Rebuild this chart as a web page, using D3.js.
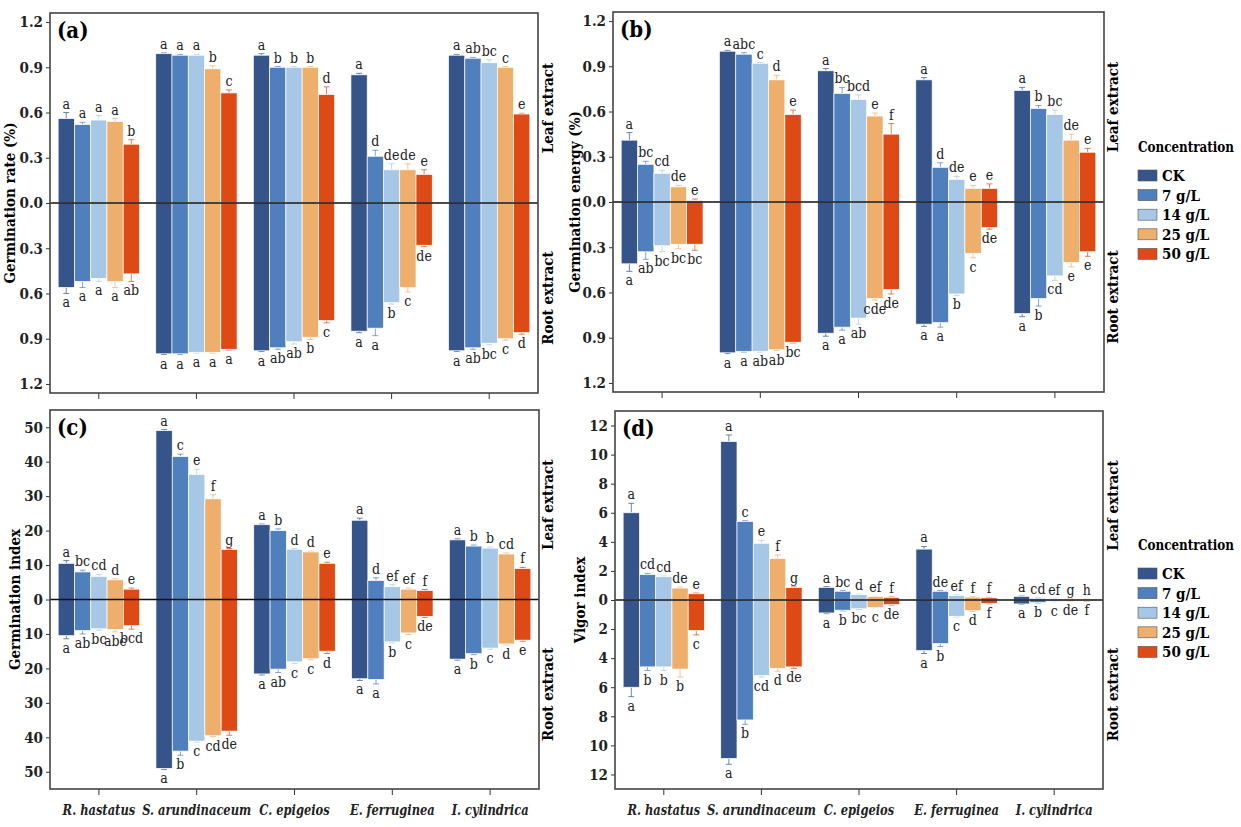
<!DOCTYPE html>
<html>
<head>
<meta charset="utf-8">
<script src="https://cdn.jsdelivr.net/npm/d3@7.9.0/dist/d3.min.js"></script>
<style>
  body { margin: 0; background: #fff; }
</style>
</head>
<body>
<svg id="chart" width="1241" height="827"></svg>
<script>
// species + concentrations
const species = ['R. hastatus', 'S. arundinaceum', 'C. epigeios', 'E. ferruginea', 'I. cylindrica'];
const concs = ['CK', '7 g/L', '14 g/L', '25 g/L', '50 g/L'];
const colors = ['#34548a', '#4f7fbd', '#a6c8e6', '#eeae6c', '#dd4a16'];

// (a) germination rate -- one row per species, CK..50 g/L
const rateLeaf = [[0.56, 0.52, 0.55, 0.54, 0.39], [0.99, 0.98, 0.98, 0.89, 0.73], [0.98, 0.90, 0.90, 0.90, 0.72], [0.85, 0.31, 0.22, 0.22, 0.19], [0.98, 0.96, 0.93, 0.90, 0.59]];
const rateLeafErr = [[0.04, 0.015, 0.03, 0.02, 0.03], [0.005, 0.005, 0.005, 0.02, 0.02], [0.01, 0.005, 0.005, 0.005, 0.05], [0.01, 0.04, 0.04, 0.04, 0.03], [0.005, 0.005, 0.02, 0.005, 0.005]];
const rateRoot = [[0.56, 0.52, 0.50, 0.52, 0.47], [1.00, 1.00, 0.99, 0.99, 0.97], [0.98, 0.96, 0.92, 0.89, 0.78], [0.85, 0.83, 0.66, 0.56, 0.28], [0.98, 0.96, 0.93, 0.90, 0.86]];
const rateRootErr = [[0.04, 0.04, 0.02, 0.04, 0.05], [0.005, 0.005, 0.005, 0.005, 0.005], [0.005, 0.01, 0.015, 0.015, 0.015], [0.01, 0.05, 0.01, 0.03, 0.01], [0.005, 0.01, 0.01, 0.01, 0.01]];
const rateLeafLet = [['a', 'a', 'a', 'a', 'b'], ['a', 'a', 'a', 'b', 'c'], ['a', 'b', 'b', 'b', 'd'], ['a', 'd', 'de', 'de', 'e'], ['a', 'ab', 'bc', 'c', 'e']];
const rateRootLet = [['a', 'a', 'a', 'a', 'ab'], ['a', 'a', 'a', 'a', 'a'], ['a', 'ab', 'ab', 'b', 'c'], ['a', 'a', 'b', 'c', 'de'], ['a', 'ab', 'bc', 'c', 'd']];

// (b) germination energy
const energyLeaf = [[0.41, 0.25, 0.19, 0.10, 0.01], [1.00, 0.98, 0.92, 0.81, 0.58], [0.87, 0.72, 0.68, 0.57, 0.45], [0.81, 0.23, 0.15, 0.09, 0.09], [0.74, 0.62, 0.58, 0.41, 0.33]];
const energyLeafErr = [[0.05, 0.02, 0.02, 0.01, 0.01], [0.005, 0.01, 0.005, 0.03, 0.03], [0.015, 0.04, 0.03, 0.02, 0.07], [0.015, 0.03, 0.02, 0.02, 0.03], [0.02, 0.02, 0.03, 0.04, 0.025]];
const energyRoot = [[0.41, 0.33, 0.29, 0.28, 0.28], [1.00, 0.99, 0.99, 0.98, 0.93], [0.87, 0.83, 0.77, 0.64, 0.58], [0.81, 0.80, 0.61, 0.34, 0.17], [0.74, 0.64, 0.49, 0.40, 0.33]];
const energyRootErr = [[0.05, 0.05, 0.04, 0.03, 0.04], [0.005, 0.005, 0.005, 0.005, 0.005], [0.02, 0.02, 0.04, 0.01, 0.03], [0.015, 0.03, 0.01, 0.03, 0.01], [0.02, 0.05, 0.03, 0.03, 0.03]];
const energyLeafLet = [['a', 'bc', 'cd', 'de', 'e'], ['a', 'abc', 'c', 'd', 'e'], ['a', 'bc', 'bcd', 'e', 'f'], ['a', 'd', 'de', 'e', 'e'], ['a', 'b', 'bc', 'de', 'e']];
const energyRootLet = [['a', 'ab', 'bc', 'bc', 'bc'], ['a', 'a', 'ab', 'ab', 'bc'], ['a', 'a', 'ab', 'cde', 'de'], ['a', 'a', 'b', 'c', 'de'], ['a', 'b', 'cd', 'e', 'e']];

// (c) germination index
const indexLeaf = [[10.5, 8.0, 6.7, 5.7, 3.0], [49.0, 41.5, 36.3, 29.2, 14.5], [21.7, 20.0, 14.6, 13.8, 10.5], [23.0, 5.5, 3.7, 3.0, 2.6], [17.3, 15.5, 14.9, 13.2, 9.0]];
const indexLeafErr = [[0.8, 0.5, 0.6, 0.3, 0.3], [0.3, 0.7, 1.5, 1.2, 0.3], [0.2, 0.5, 0.2, 0.2, 0.3], [0.6, 0.8, 0.6, 0.3, 0.3], [0.3, 0.3, 0.3, 0.3, 0.3]];
const indexRoot = [[10.5, 9.0, 8.5, 8.7, 7.6], [49.0, 44.0, 41.1, 39.5, 38.2], [21.6, 20.2, 18.1, 17.2, 15.0], [23.0, 23.2, 12.3, 9.7, 4.9], [17.3, 15.7, 14.1, 12.9, 11.8]];
const indexRootErr = [[0.9, 1.0, 0.4, 0.7, 1.0], [0.3, 1.2, 0.3, 0.3, 1.2], [0.3, 1.0, 0.5, 0.3, 0.7], [0.5, 1.3, 0.3, 0.5, 0.3], [0.3, 0.3, 0.3, 0.3, 0.3]];
const indexLeafLet = [['a', 'bc', 'cd', 'd', 'e'], ['a', 'c', 'e', 'f', 'g'], ['a', 'b', 'd', 'd', 'e'], ['a', 'd', 'ef', 'ef', 'f'], ['a', 'b', 'b', 'cd', 'f']];
const indexRootLet = [['a', 'ab', 'bc', 'abc', 'bcd'], ['a', 'b', 'c', 'cd', 'de'], ['a', 'ab', 'c', 'c', 'd'], ['a', 'a', 'b', 'c', 'de'], ['a', 'b', 'c', 'd', 'e']];

// (d) vigor index
const vigorLeaf = [[6.0, 1.75, 1.6, 0.82, 0.43], [10.9, 5.4, 3.9, 2.85, 0.85], [0.87, 0.6, 0.37, 0.23, 0.18], [3.5, 0.6, 0.3, 0.2, 0.15], [0.25, 0.11, 0.07, 0.05, 0.03]];
const vigorLeafErr = [[0.65, 0.08, 0.05, 0.07, 0.05], [0.45, 0.05, 0.2, 0.25, 0.05], [0.05, 0.05, 0.03, 0.03, 0.03], [0.18, 0.05, 0.05, 0.03, 0.03], [0.02, 0.02, 0.02, 0.02, 0.02]];
const vigorRoot = [[6.0, 4.6, 4.6, 4.75, 2.1], [10.9, 8.25, 5.2, 4.7, 4.6], [0.89, 0.7, 0.6, 0.5, 0.32], [3.48, 3.0, 1.12, 0.73, 0.23], [0.27, 0.18, 0.1, 0.08, 0.05]];
const vigorRootErr = [[0.65, 0.25, 0.25, 0.55, 0.3], [0.4, 0.3, 0.1, 0.2, 0.1], [0.05, 0.05, 0.05, 0.03, 0.03], [0.2, 0.2, 0.05, 0.05, 0.03], [0.02, 0.02, 0.02, 0.02, 0.02]];
const vigorLeafLet = [['a', 'cd', 'cd', 'de', 'e'], ['a', 'c', 'e', 'f', 'g'], ['a', 'bc', 'd', 'ef', 'f'], ['a', 'de', 'ef', 'f', 'f'], ['a', 'cd', 'ef', 'g', 'h']];
const vigorRootLet = [['a', 'b', 'b', 'b', 'c'], ['a', 'b', 'cd', 'd', 'de'], ['a', 'b', 'bc', 'c', 'de'], ['a', 'b', 'c', 'd', 'f'], ['a', 'b', 'c', 'de', 'f']];

const rateTicks = [-1.2, -0.9, -0.6, -0.3, 0, 0.3, 0.6, 0.9, 1.2];
const indexTicks = [-50, -40, -30, -20, -10, 0, 10, 20, 30, 40, 50];
const vigorTicks = [-12, -10, -8, -6, -4, -2, 0, 2, 4, 6, 8, 10, 12];

const panels = [
  { tag: '(a)', title: 'Germination rate (%)', leaf: rateLeaf, leafErr: rateLeafErr, root: rateRoot, rootErr: rateRootErr,
    leafLet: rateLeafLet, rootLet: rateRootLet, max: 1.26, ticks: rateTicks, fmt: d3.format('.1f'),
    box: [50, 13, 538, 393], titleX: 15, sideX: 553, xLabels: false, legend: false },
  { tag: '(b)', title: 'Germination energy (%)', leaf: energyLeaf, leafErr: energyLeafErr, root: energyRoot, rootErr: energyRootErr,
    leafLet: energyLeafLet, rootLet: energyRootLet, max: 1.26, ticks: rateTicks, fmt: d3.format('.1f'),
    box: [613, 12, 1104, 392], titleX: 580, sideX: 1118, xLabels: false, legend: true },
  { tag: '(c)', title: 'Germination index', leaf: indexLeaf, leafErr: indexLeafErr, root: indexRoot, rootErr: indexRootErr,
    leafLet: indexLeafLet, rootLet: indexRootLet, max: 55, ticks: indexTicks, fmt: d3.format('d'),
    box: [50, 410, 539, 789], titleX: 20, sideX: 553, xLabels: true, legend: false },
  { tag: '(d)', title: 'Vigor index', leaf: vigorLeaf, leafErr: vigorLeafErr, root: vigorRoot, rootErr: vigorRootErr,
    leafLet: vigorLeafLet, rootLet: vigorRootLet, max: 13, ticks: vigorTicks, fmt: d3.format('d'),
    box: [615, 411, 1103, 789], titleX: 585, sideX: 1118, xLabels: true, legend: true }
];

// no Times here: condensed DejaVu Serif is the closest narrow serif
const SERIF = '"DejaVu Serif Condensed", "Liberation Sans", sans-serif';
const svg = d3.select('#chart').attr('font-family', SERIF).style('font-family', SERIF);

// squeeze a text a bit so it takes about as much room as Times would
function squeeze(sel, k) {
  sel.each(function () {
    const w = this.getComputedTextLength();
    d3.select(this).attr('textLength', w * k).attr('lengthAdjust', 'spacingAndGlyphs');
  });
}

function drawPanel(p) {
  const [x0, y0, x1, y1] = p.box;
  const g = svg.append('g');

  const x = d3.scaleBand().domain(species).range([x0, x1]).padding(0);
  const xi = d3.scaleBand().domain(concs).range([0, x.bandwidth()]).paddingOuter(0.5).paddingInner(0);
  const y = d3.scaleLinear().domain([-p.max, p.max]).range([y1, y0]);

  // bars (leaf up, root down)
  species.forEach((sp, si) => {
    const grp = g.append('g').attr('transform', `translate(${x(sp)},0)`);
    concs.forEach((c, ci) => {
      const bx = xi(c), bw = xi.bandwidth(), cx = bx + bw / 2;
      const lv = p.leaf[si][ci], rv = p.root[si][ci];
      const le = p.leafErr[si][ci], re = p.rootErr[si][ci];
      // error bars first so the bar covers the lower half
      [[lv, le, 1], [rv, re, -1]].forEach(([v, e, s]) => {
        grp.append('line').attr('x1', cx).attr('x2', cx)
          .attr('y1', y(s * v)).attr('y2', y(s * (v + e)))
          .attr('stroke', colors[ci]).attr('stroke-opacity', 0.7).attr('stroke-width', 1);
        grp.append('line').attr('x1', cx - 3).attr('x2', cx + 3)
          .attr('y1', y(s * (v + e))).attr('y2', y(s * (v + e)))
          .attr('stroke', colors[ci]).attr('stroke-opacity', 0.7).attr('stroke-width', 1);
      });
      grp.append('rect').attr('x', bx).attr('width', bw)
        .attr('y', y(lv)).attr('height', y(0) - y(lv))
        .attr('fill', colors[ci]).attr('stroke', '#fff').attr('stroke-width', 0.7);
      grp.append('rect').attr('x', bx).attr('width', bw)
        .attr('y', y(0)).attr('height', y(-rv) - y(0))
        .attr('fill', colors[ci]).attr('stroke', '#fff').attr('stroke-width', 0.7);
      // significance letters
      grp.append('text').attr('x', cx).attr('y', y(lv + le) - 4)
        .attr('text-anchor', 'middle').attr('font-size', 14).attr('fill', '#222')
        .style('font-family', SERIF).text(p.leafLet[si][ci]);
      grp.append('text').attr('x', cx).attr('y', y(-(rv + re)) + 14)
        .attr('text-anchor', 'middle').attr('font-size', 14).attr('fill', '#222')
        .style('font-family', SERIF).text(p.rootLet[si][ci]);
    });
  });

  // zero line
  g.append('line').attr('x1', x0).attr('x2', x1).attr('y1', y(0)).attr('y2', y(0))
    .attr('stroke', '#111').attr('stroke-width', 1.5);

  // y axis
  const ya = g.append('g').attr('transform', `translate(${x0},0)`)
    .call(d3.axisLeft(y).tickValues(p.ticks).tickSize(4).tickFormat(d => p.fmt(Math.abs(d))));
  ya.select('.domain').remove();
  ya.attr('font-family', SERIF);
  ya.selectAll('text').attr('font-size', 15).attr('font-weight', 'bold').attr('fill', '#222')
    .style('font-family', SERIF);
  ya.selectAll('line').attr('stroke', '#333');

  // x axis ticks
  const xa = g.append('g').attr('transform', `translate(0,${y1})`)
    .call(d3.axisBottom(x).tickSize(6).tickFormat(p.xLabels ? d => d : ''));
  xa.select('.domain').remove();
  xa.attr('font-family', SERIF);
  xa.selectAll('line').attr('stroke', '#333');
  xa.selectAll('text').attr('font-size', 15).attr('font-weight', 'bold').attr('font-style', 'italic')
    .attr('fill', '#222').attr('dy', '1.1em').style('font-family', SERIF);
  if (p.xLabels) squeeze(xa.selectAll('text'), 0.85);

  // frame
  g.append('rect').attr('x', x0).attr('y', y0).attr('width', x1 - x0).attr('height', y1 - y0)
    .attr('fill', 'none').attr('stroke', '#444').attr('stroke-width', 1.6);

  g.append('text').attr('x', x0 + 7).attr('y', y0 + 25).attr('font-size', 22).attr('font-weight', 'bold')
    .style('font-family', SERIF).text(p.tag);

  g.append('text').attr('transform', `translate(${p.titleX},${y(0)}) rotate(-90)`)
    .attr('text-anchor', 'middle').attr('font-size', 15).attr('font-weight', 'bold')
    .style('font-family', SERIF).text(p.title);

  const leafY = y0 + (y(0) - y0) * 0.5;
  const rootY = y(0) + (y1 - y(0)) * 0.5;
  g.append('text').attr('transform', `translate(${p.sideX},${leafY}) rotate(-90)`)
    .attr('text-anchor', 'middle').attr('font-size', 15).attr('font-weight', 'bold')
    .style('font-family', SERIF).text('Leaf extract');
  g.append('text').attr('transform', `translate(${p.sideX},${rootY}) rotate(-90)`)
    .attr('text-anchor', 'middle').attr('font-size', 15).attr('font-weight', 'bold')
    .style('font-family', SERIF).text('Root extract');

  if (p.legend) {
    const lg = svg.append('g').attr('transform', `translate(1138,${y(0) - 50})`);
    lg.append('text').attr('x', 0).attr('y', 0).attr('font-size', 14).attr('font-weight', 'bold')
      .style('font-family', SERIF).attr('textLength', 96).attr('lengthAdjust', 'spacingAndGlyphs')
      .text('Concentration');
    concs.forEach((c, i) => {
      lg.append('rect').attr('x', 0).attr('y', 18 + i * 19.6).attr('width', 19).attr('height', 11)
        .attr('fill', colors[i]).attr('stroke', '#555').attr('stroke-width', 0.6);
      lg.append('text').attr('x', 24).attr('y', 29 + i * 19.6).attr('font-size', 15).attr('font-weight', 'bold')
        .style('font-family', SERIF).text(c);
    });
  }
}

panels.forEach(drawPanel);
</script>
</body>
</html>
